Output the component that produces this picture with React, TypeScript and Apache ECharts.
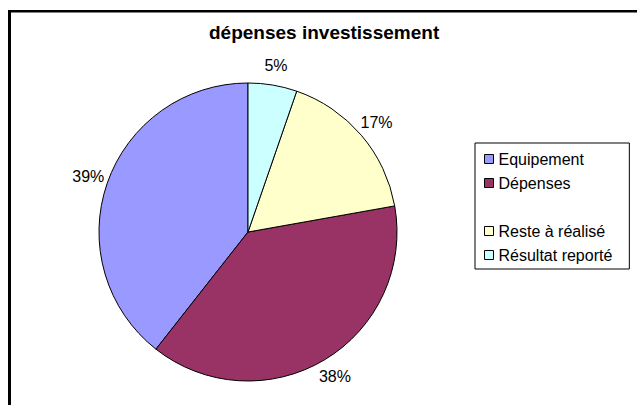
import React, { useEffect, useRef } from "react";
import * as echarts from "echarts";

const titleText = "dépenses investissement";
const categories = ["Equipement", "Dépenses", " ", "Reste à réalisé", "Résultat reporté"];
const values = [39.4, 38.4, 0, 16.9, 5.3];
const colors = ["#9999FF", "#993366", "transparent", "#FFFFCC", "#CCFFFF"];

const FONT = "'Liberation Sans', Arial, Helvetica, sans-serif";

export default function App() {
  const ref = useRef<HTMLDivElement>(null);
  useEffect(() => {
    if (!ref.current) return;
    const chart = echarts.init(ref.current, null, { renderer: "svg" });
    const total = values.reduce((a, b) => a + b, 0);
    const data = categories.map((name, i) => {
      const blank = name.trim() === "";
      if (blank) {
        return {
          name,
          value: values[i],
          itemStyle: { color: colors[i], borderWidth: 0, opacity: 0 },
          label: { show: false },
          labelLine: { show: false },
        };
      }
      return { name, value: values[i], itemStyle: { color: colors[i] } };
    });
    chart.setOption({
      animation: false,
      backgroundColor: "#fff",
      title: {
        text: titleText,
        left: 209,
        top: 23,
        padding: 0,
        textStyle: { fontFamily: FONT, fontSize: 19, fontWeight: "bold", color: "#000" },
      },
      legend: {
        orient: "vertical",
        left: 475,
        top: 143,
        padding: [8, 17, 6, 9],
        itemGap: 8,
        itemWidth: 9,
        itemHeight: 9,
        icon: "rect",
        borderColor: "#000",
        borderWidth: 1,
        selectedMode: false,
        textStyle: { fontFamily: FONT, fontSize: 16, color: "#000" },
        itemStyle: { borderColor: "#000", borderWidth: 1 },
        data: categories.map((name) =>
          name.trim() === "" ? { name, itemStyle: { opacity: 0, borderWidth: 0 } } : name
        ),
      },
      graphic: [
        { type: "line", shape: { x1: 8, y1: 11.25, x2: 637, y2: 11.25 }, style: { stroke: "#000", lineWidth: 2.5 } },
        { type: "line", shape: { x1: 9.5, y1: 10, x2: 9.5, y2: 405 }, style: { stroke: "#000", lineWidth: 3 } },
      ],
      series: [
        {
          type: "pie",
          center: [248, 232],
          radius: 149,
          startAngle: 90,
          clockwise: false,
          silent: true,
          avoidLabelOverlap: false,
          itemStyle: { borderColor: "#000", borderWidth: 1 },
          label: {
            show: true,
            position: "outside",
            distanceToLabelLine: 0,
            fontFamily: FONT,
            fontSize: 16,
            color: "#000",
            formatter: (p: any) => Math.round((p.value / total) * 100) + "%",
          },
          labelLine: { show: false, length: 20, length2: 0 },
          labelLayout: () => ({ align: "center" }),
          emphasis: { disabled: true },
          data,
        },
      ],
    });
    return () => chart.dispose();
  }, []);
  return (
    <div
      ref={ref}
      style={{ position: "absolute", left: 0, top: 0, width: 637, height: 405 }}
    />
  );
}
